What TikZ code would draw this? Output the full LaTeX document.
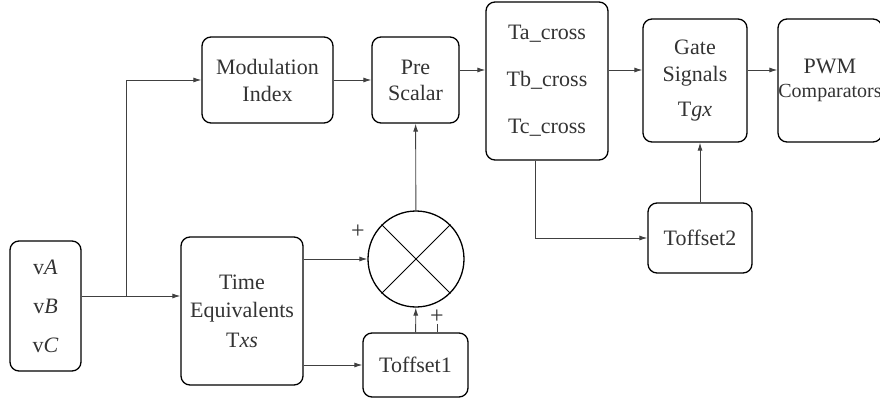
\documentclass[tikz,border=0pt]{standalone}
\usepackage{fontspec}
\setmainfont{LiberationSerif}[Extension=.ttf, UprightFont=*-Regular, ItalicFont=*-Italic, BoldFont=*-Bold, BoldItalicFont=*-BoldItalic]
\usetikzlibrary{arrows.meta}
\tikzset{
  block/.style={draw=black, line width=1.3pt, rounded corners=9pt, inner sep=0pt, align=center, text=black!80, font=\fontsize{22}{26}\selectfont},
  link/.style={draw=black!75, line width=0.9pt, -{Latex[length=8pt,width=5pt]}},
  wire/.style={draw=black!75, line width=0.9pt},
  sign/.style={inner sep=0pt, text=black!80, font=\fontsize{24}{26}\selectfont}
}

\begin{document}
\begin{tikzpicture}[x=1pt,y=-1pt]
			%%%%% START %%%%%
			\useasboundingbox (0,0) rectangle (880,406);
			
			\node[block, minimum width=71pt, minimum height=130pt] (vin) at (45.5,306) {v\textit{A}\\[13pt] v\textit{B}\\[13pt] v\textit{C}};
			\node[block, minimum width=122pt, minimum height=148pt] (teq) at (242,311) {Time\\[2pt] Equivalents\\[4pt] T\textit{xs}};
			\node[block, minimum width=131pt, minimum height=86pt] (mod) at (267.5,80) {Modulation\\[1pt] Index};
			\node[block, minimum width=87pt, minimum height=86pt] (pre) at (415.5,80) {Pre\\ Scalar};
			\node[block, minimum width=122pt, minimum height=158pt] (cross) at (547,81) {Ta\_cross\\[21pt] Tb\_cross\\[21pt] Tc\_cross};
			\node[block, minimum width=104pt, minimum height=123pt] (gate) at (695,80.5) {Gate\\[1pt] Signals\\[9pt] T\textit{gx}};
			\node[block, minimum width=104pt, minimum height=123pt] (pwm) at (830,80.5) {PWM\\[-2pt] {\fontsize{20}{24}\selectfont Comparators}};
			\node[block, minimum width=104pt, minimum height=70pt] (toffb) at (700,238) {\raisebox{-5pt}{Toffset2}};
			\node[block, minimum width=105pt, minimum height=64pt] (toffa) at (415.5,365) {\raisebox{-5pt}{Toffset1}};
			\node[draw=black, circle, line width=1.3pt, minimum size=96pt, inner sep=0pt] (mult) at (416,259) {};
			\draw[line width=0.9pt] (mult.north west) -- (mult.south east);
			\draw[line width=0.9pt] (mult.north east) -- (mult.south west);
			
			\node[sign] (plusa) at (358,232) {+};
			\node[sign] (plusb) at (437,317) {+};
			\draw[wire] (plusb.south) -- (plusb.south |- toffa.north);
			
			\coordinate (split) at (126,296);
			\coordinate (row) at (0,70);
			
			\draw[wire] (vin.east |- split) -- (split);
			\draw[link] (split) -- (split -| teq.west);
			\draw[link] (split) |- (mod.west);
			\draw[link] (mod) -- (pre);
			\draw[link] (pre.east |- row) -- (cross.west |- row);
			\draw[link] (cross.east |- row) -- (gate.west |- row);
			\draw[link] (gate.east |- row) -- (pwm.west |- row);
			\draw[link] ([xshift=-12pt]cross.south) |- (toffb.west);
			\draw[link] (toffb.north) -- (toffb.north |- gate.south);
			\draw[link] (teq.east |- mult) -- (mult);
			\draw[link] (teq.east |- toffa) -- (toffa);
			\draw[link] (toffa) -- (mult);
			\draw[link] (mult) -- (pre);
			
			%%%%% END %%%%%
\end{tikzpicture}
\end{document}
